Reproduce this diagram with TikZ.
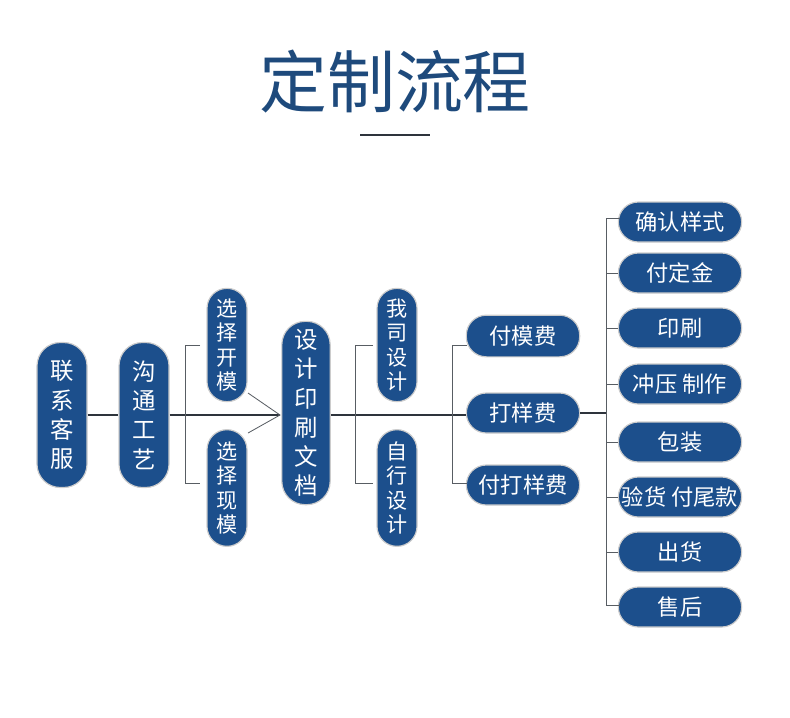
\documentclass[tikz,border=0pt]{standalone}
\usepackage{fontspec}
\setmainfont{Noto Sans CJK SC}
\definecolor{pillblue}{HTML}{1C4F8C}
\definecolor{titleblue}{HTML}{1E4A7C}
\definecolor{linegray}{HTML}{2E343C}
\tikzset{
  pill/.style={fill=pillblue, draw=gray!40, line width=1pt, text=white, inner sep=0pt, align=center},
  vpill/.style={pill, minimum width=1.4cm, rounded corners=0.7cm, font=\fontsize{20}{25}\selectfont},
  spill/.style={pill, minimum width=1.2cm, rounded corners=0.6cm, font=\fontsize{18}{21}\selectfont},
  hpill/.style={pill, minimum height=1.2cm, rounded corners=0.6cm, font=\fontsize{19}{22}\selectfont},
  link/.style={linegray, line width=1pt},
  brk/.style={linegray!80, line width=0.7pt}
}
\begin{document}
\begin{tikzpicture}[x=0.03cm, y=-0.03cm]
\useasboundingbox (0,0) rectangle (790,717);
% title
\node (title) at (395,82) {\textcolor{titleblue}{\fontsize{58}{62}\selectfont 定制流程}};
\draw[linegray, line width=1.2pt] (360,135) -- (430,135);
% first columns
\node[vpill, minimum width=1.5cm, minimum height=4.35cm] (kefu) at (62,415) {联\\系\\客\\服};
\node[vpill, minimum width=1.5cm, minimum height=4.35cm] (goutong) at (144,415) {沟\\通\\工\\艺};
\node[spill, minimum height=3.4cm] (kaimo) at (227,345) {选\\择\\开\\模};
\node[spill, minimum height=3.5cm] (xianmo) at (227,488) {选\\择\\现\\模};
\node[vpill, minimum width=1.45cm, minimum height=5.5cm] (wendang) at (306,413) {设\\计\\印\\刷\\文\\档};
\node[spill, minimum height=3.4cm] (wosi) at (397,345) {我\\司\\设\\计};
\node[spill, minimum height=3.5cm] (zixing) at (397,488) {自\\行\\设\\计};
% fees
\node[hpill, minimum width=3.4cm, minimum height=1.25cm] (mofei) at (523,336) {付模费};
\node[hpill, minimum width=3.4cm] (dayang) at (523,413) {打样费};
\node[hpill, minimum width=3.4cm] (fudayang) at (523,485) {付打样费};
% steps
\foreach \y/\name/\txt in {222/s1/确认样式, 273/s2/付定金, 328/s3/印刷, 384/s4/冲压 制作, 442/s5/包装, 497/s6/验货 付尾款, 552/s7/出货, 607/s8/售后}
  \node[hpill, minimum width=3.7cm, minimum height=1.2cm] (\name) at (680,\y) {\txt};
% links
\draw[link] (kefu) -- (goutong);
\coordinate (tip) at (280,415);
\draw[link] (goutong.east |- tip) -- (tip);
\draw[brk] (200,345) -- (185,345) -- (185,483) -- (200,483);
\draw[brk] (248,393) -- (tip) -- (248,433);
\draw[link] (wendang.east |- tip) -- (dayang.west |- tip);
\draw[brk] (373,345) -- (355,345) -- (355,483) -- (373,483);
\draw[brk] (467,345) -- (452,345) -- (452,483) -- (467,483);
\coordinate (fork) at (606,413);
\draw[link] (dayang) -- (fork);
\draw[brk] (620,218) -- (606,218) -- (606,605) -- (620,605);
\foreach \y in {273,328,384,442,497,552}
  \draw[brk] (606,\y) -- (618,\y);
\end{tikzpicture}
\end{document}
